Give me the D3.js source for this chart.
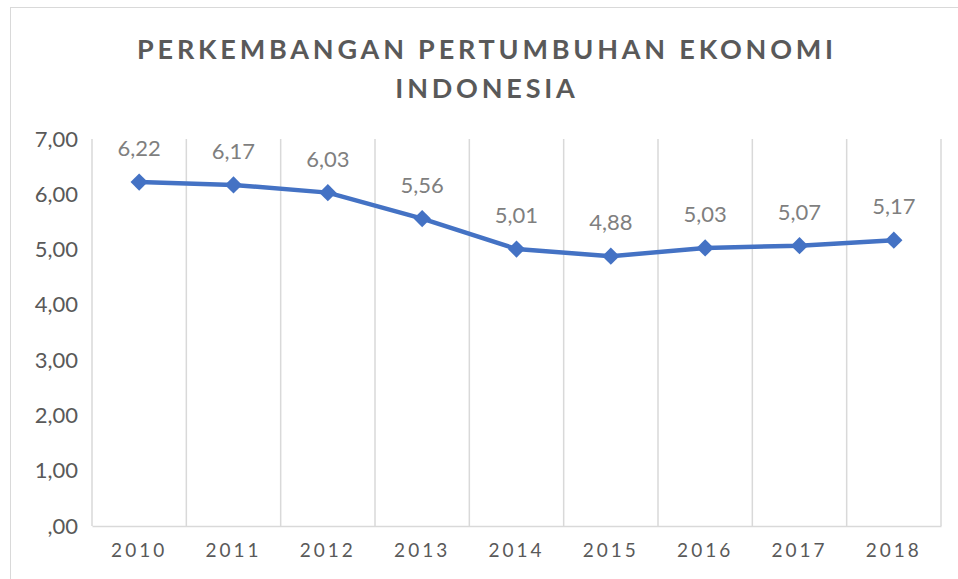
<!DOCTYPE html>
<html>
<head>
<meta charset="utf-8">
<script src="https://cdn.jsdelivr.net/npm/d3@7"></script>
<style>
  body { margin: 0; background: #fff; }
  text { font-family: Lato, "Open Sans", sans-serif; }
</style>
</head>
<body>
<svg id="chart" width="958" height="579"></svg>
<script>
// Data
const years = ["2010", "2011", "2012", "2013", "2014", "2015", "2016", "2017", "2018"];
const growth = [6.22, 6.17, 6.03, 5.56, 5.01, 4.88, 5.03, 5.07, 5.17];
const yTicks = [0, 1, 2, 3, 4, 5, 6, 7];
const titleLines = ["PERKEMBANGAN PERTUMBUHAN EKONOMI", "INDONESIA"];

const svg = d3.select("#chart");
const margin = { left: 92, right: 17, top: 139, bottom: 53 };
const width = 958, height = 579;

// comma decimal like the original
const fmt = v => (v === 0 ? ",00" : v.toFixed(2).replace(".", ","));

// chart border
svg.append("rect")
    .attr("x", 10.5).attr("y", 7.5)
    .attr("width", 970).attr("height", 600)
    .attr("fill", "none")
    .attr("stroke", "#d9d9d9");

// title
svg.append("text")
    .attr("x", 487)
    .attr("text-anchor", "middle")
    .attr("fill", "#595959")
    .style("font-size", "27px")
    .style("font-weight", "bold")
    .style("letter-spacing", "3.8px")
    .selectAll("tspan").data(titleLines)
    .join("tspan")
    .attr("x", 487)
    .attr("y", (d, i) => 59 + i * 39)
    .text(d => d);

// Scales
const x = d3.scaleBand()
    .domain(years)
    .range([margin.left, width - margin.right]);
const y = d3.scaleLinear()
    .domain([0, 7])
    .range([height - margin.bottom, margin.top]);

// vertical gridlines on category boundaries
const edges = years.map(d => x(d)).concat([x.range()[1]]);
svg.append("g").selectAll("line").data(edges)
    .join("line")
    .attr("x1", d => d).attr("x2", d => d)
    .attr("y1", y(7)).attr("y2", y(0))
    .attr("stroke", "#d9d9d9")
    .attr("stroke-width", 1.5);

// x axis
const xAxis = svg.append("g")
    .attr("transform", `translate(0,${y(0)})`)
    .call(d3.axisBottom(x).tickSize(0).tickPadding(18));
xAxis.select(".domain").attr("stroke", "#d9d9d9").attr("stroke-width", 1.5);
xAxis.selectAll("text")
    .attr("fill", "#595959")
    .style("font-size", "19px")
    .style("letter-spacing", "3px");

// y axis
const yAxis = svg.append("g")
    .attr("transform", `translate(${margin.left},0)`)
    .call(d3.axisLeft(y).tickValues(yTicks).tickFormat(fmt).tickSize(0).tickPadding(14));
yAxis.select(".domain").remove();
yAxis.selectAll("text")
    .attr("fill", "#595959")
    .style("font-size", "22px");

// line
const cx = d => x(d) + x.bandwidth() / 2;
svg.append("path")
    .datum(growth)
    .attr("fill", "none")
    .attr("stroke", "#4472c4")
    .attr("stroke-width", 4.5)
    .attr("stroke-linejoin", "round")
    .attr("d", d3.line().x((d, i) => cx(years[i])).y(d => y(d)));

// diamond markers
svg.append("g").selectAll("path").data(growth)
    .join("path")
    .attr("transform", (d, i) => `translate(${cx(years[i])},${y(d)})`)
    .attr("d", d3.symbol(d3.symbolDiamond2, 190))
    .attr("fill", "#4472c4");

// data labels
svg.append("g").selectAll("text").data(growth)
    .join("text")
    .attr("x", (d, i) => cx(years[i]))
    .attr("y", d => y(d) - 26)
    .attr("text-anchor", "middle")
    .attr("fill", "#7f7f7f")
    .style("font-size", "22px")
    .text(fmt);
</script>
</body>
</html>
